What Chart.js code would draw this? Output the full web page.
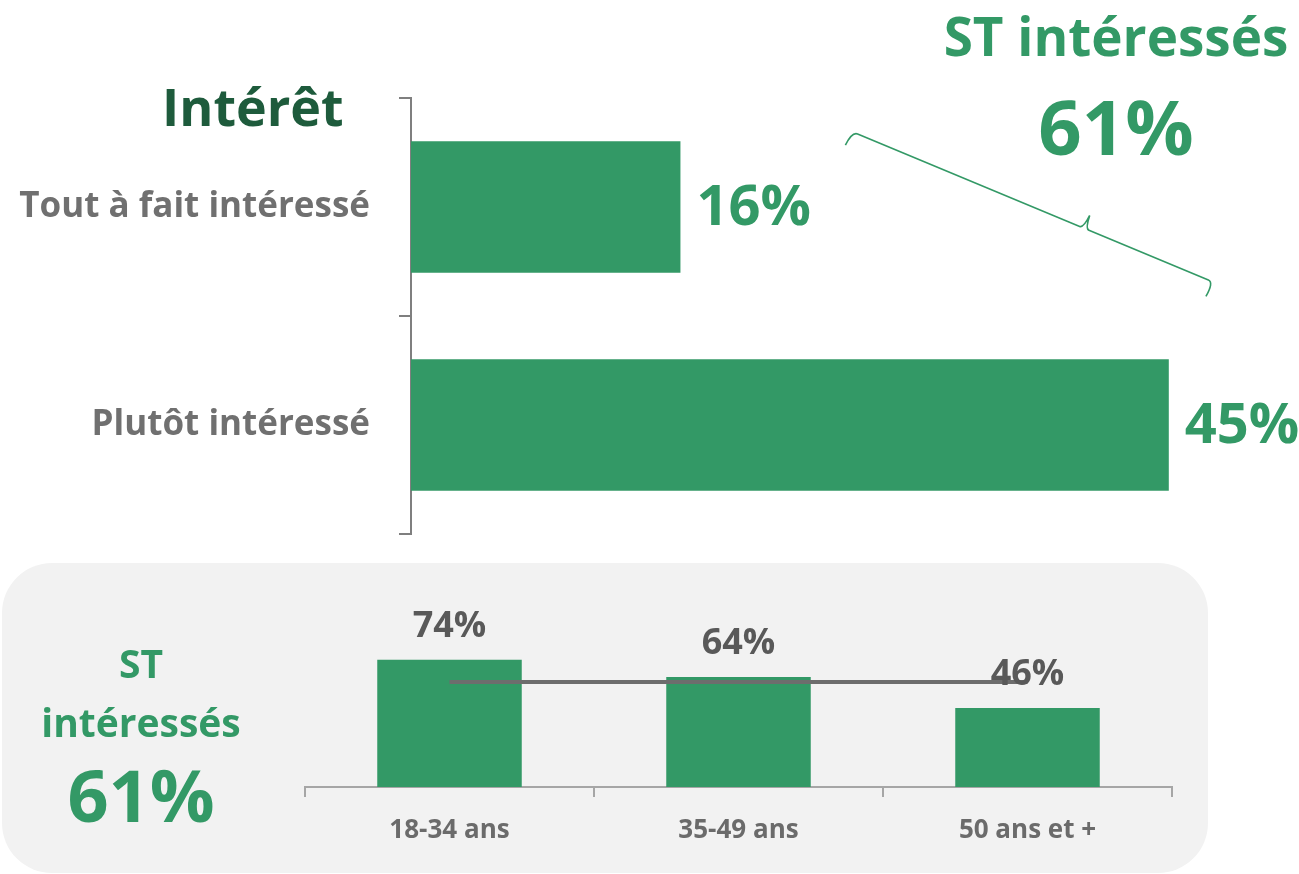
<!DOCTYPE html>
<html lang="fr">
<head>
<meta charset="utf-8">
<title>Intérêt</title>
<script src="https://cdn.jsdelivr.net/npm/chart.js@4.4.1/dist/chart.umd.min.js"></script>
<style>
  html, body { margin:0; padding:0; background:#fff; }
  body { width:1299px; height:874px; position:relative; overflow:hidden; font-family:"Open Sans", Lato, sans-serif; }
  .panel { position:absolute; left:2px; top:563px; width:1206px; height:310px; background:#f2f2f2; border-radius:50px; }
  canvas { position:absolute; left:0; }
  #topChart { top:0; }
  #ageChart { top:563px; }
  .txt { position:absolute; font-weight:700; white-space:nowrap; line-height:1; }
  .green { color:#339966; }
</style>
</head>
<body>
<div class="panel"></div>
<canvas id="ageChart" width="1299" height="311"></canvas>
<canvas id="topChart" width="1299" height="584"></canvas>

<div class="txt" style="left:162px; top:80px; font-size:52px; color:#1e5b3c;">Intérêt</div>
<div class="txt green" style="left:1116px; top:9px; font-size:53px; transform:translateX(-50%);">ST intéressés</div>
<div class="txt green" style="left:1116px; top:88px; font-size:76px; transform:translateX(-50%);">61%</div>

<div class="txt green" style="left:141px; top:643px; font-size:39px; transform:translateX(-50%);">ST</div>
<div class="txt green" style="left:141px; top:702px; font-size:39px; transform:translateX(-50%);">intéressés</div>
<div class="txt green" style="left:141px; top:758px; font-size:72px; transform:translateX(-50%);">61%</div>

<script>
// --- data
const interestLabels = ['Tout à fait intéressé', 'Plutôt intéressé'];
const interestValues = [16, 45];
const ageLabels = ['18-34 ans', '35-49 ans', '50 ans et +'];
const ageValues = [74, 64, 46];
const totalInterested = 61;

const GREEN = '#339966';
const AXIS = '#7f7f7f';
const FONT = '"Open Sans", Lato, sans-serif';

// value labels right of the horizontal bars + the brace
const topLabels = {
  id: 'topLabels',
  afterDatasetsDraw(chart) {
    const ctx = chart.ctx;
    const meta = chart.getDatasetMeta(0);
    ctx.save();
    ctx.fillStyle = GREEN;
    ctx.font = '700 56px ' + FONT;
    ctx.textAlign = 'left';
    ctx.textBaseline = 'middle';
    meta.data.forEach((bar, i) => {
      ctx.fillText(interestValues[i] + '%', bar.x + 16, bar.y + 2);
    });

    // curly brace grouping both answers
    const x0 = 853, y0 = 132, x1 = 1213, y1 = 282;
    const L = Math.hypot(x1 - x0, y1 - y0), m = L * 0.64;
    ctx.translate(x0, y0);
    ctx.rotate(Math.atan2(y1 - y0, x1 - x0));
    ctx.strokeStyle = GREEN;
    ctx.lineWidth = 1.6;
    ctx.beginPath();
    ctx.moveTo(-2, 15);
    ctx.quadraticCurveTo(-1, 0, 5, 0);
    ctx.lineTo(m - 4, 0);
    ctx.quadraticCurveTo(m, 0, m + 1, -14);
    ctx.moveTo(m + 1, -14);
    ctx.quadraticCurveTo(m + 2, 0, m + 6, 0);
    ctx.lineTo(L - 5, 0);
    ctx.quadraticCurveTo(L + 1, 0, L - 1, 16);
    ctx.stroke();
    ctx.restore();
  }
};

new Chart(document.getElementById('topChart'), {
  type: 'bar',
  data: {
    labels: interestLabels,
    datasets: [{
      data: interestValues,
      backgroundColor: GREEN,
      categoryPercentage: 1,
      barPercentage: 0.603
    }]
  },
  options: {
    indexAxis: 'y',
    responsive: false,
    animation: false,
    layout: { padding: { top: 98, bottom: 0, right: 46, left: 0 } },
    plugins: { legend: { display: false }, tooltip: { enabled: false } },
    scales: {
      x: { display: false, min: 0, max: 50 },
      y: {
        afterFit: (s) => { s.width = 411; },
        border: { display: true, color: AXIS, width: 2 },
        grid: { display: true, drawOnChartArea: false, tickLength: 12, color: AXIS, lineWidth: 2 },
        ticks: { color: '#707070', padding: 29, font: { family: FONT, size: 35, weight: '700' } }
      }
    }
  },
  plugins: [topLabels]
});

// percentages above the age bars
const ageValueLabels = {
  id: 'ageValueLabels',
  afterDatasetsDraw(chart) {
    const ctx = chart.ctx;
    const meta = chart.getDatasetMeta(0);
    ctx.save();
    ctx.fillStyle = '#595959';
    ctx.font = '700 36px ' + FONT;
    ctx.textAlign = 'center';
    ctx.textBaseline = 'middle';
    meta.data.forEach((bar, i) => {
      ctx.fillText(ageValues[i] + '%', bar.x, bar.y - 33);
    });
    ctx.restore();
  }
};

new Chart(document.getElementById('ageChart'), {
  data: {
    labels: ageLabels,
    datasets: [
      {
        type: 'bar',
        data: ageValues,
        backgroundColor: GREEN,
        categoryPercentage: 1,
        barPercentage: 0.5,
        order: 1
      },
      {
        type: 'line',
        data: ageLabels.map(() => totalInterested),
        borderColor: '#6d6d6d',
        borderWidth: 4,
        pointRadius: 0,
        fill: false,
        order: 0
      }
    ]
  },
  options: {
    responsive: false,
    animation: false,
    layout: { padding: { top: 52, bottom: 0, left: 305, right: 127 } },
    plugins: { legend: { display: false }, tooltip: { enabled: false } },
    scales: {
      y: { display: false, min: 0, max: 100 },
      x: {
        afterFit: (s) => { s.height = 87; },
        offset: true,
        border: { display: true, color: '#a6a6a6', width: 2 },
        grid: { display: true, offset: true, drawOnChartArea: false, tickLength: 10, color: '#a6a6a6', lineWidth: 2 },
        ticks: { color: '#6b6b6b', padding: 18, font: { family: FONT, size: 26, weight: '700' } }
      }
    }
  },
  plugins: [ageValueLabels]
});
</script>
</body>
</html>
